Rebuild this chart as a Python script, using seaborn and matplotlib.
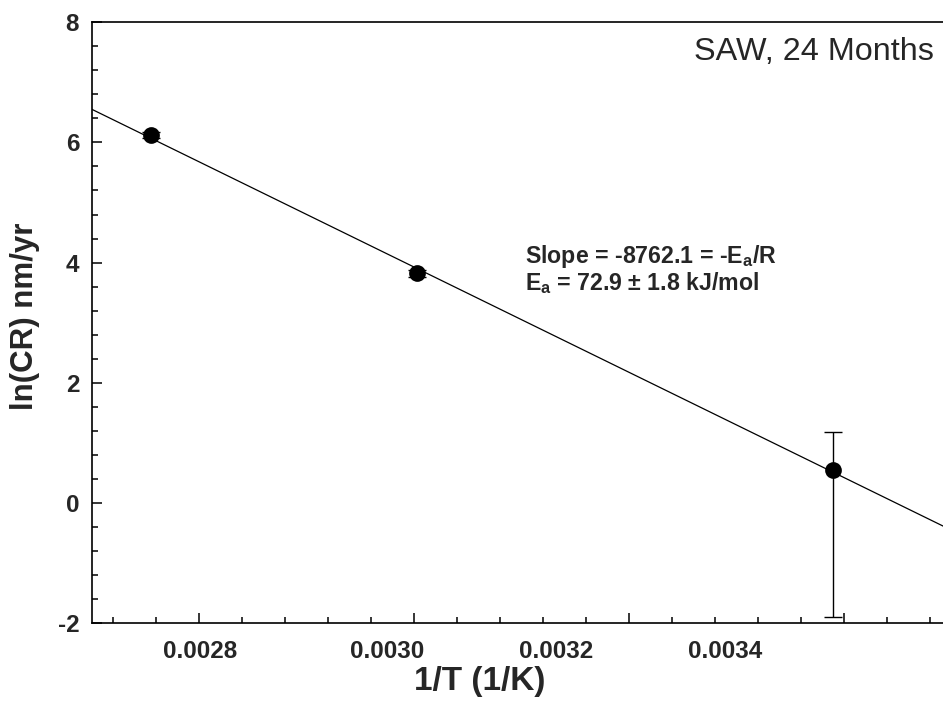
import matplotlib
matplotlib.use("Agg")
import matplotlib.pyplot as plt
import matplotlib.transforms as mtransforms
from matplotlib.ticker import MultipleLocator, NullFormatter
import numpy as np
import pandas as pd
import seaborn as sns

# Arrhenius data for SAW after 24 months
temperature_K = [363, 333, 295]
ln_cr = [6.12, 3.82, 0.54]
err_lower = [0.05, 0.06, 2.44]
err_upper = [0.05, 0.06, 0.64]

slope = -8762.1
x_range = [0.0027, 0.0035]
x_major = [0.0028, 0.0030, 0.0032, 0.0034]
x_tick_text = ["0.0028", "0.0030", "0.0032", "0.0034"]
x_text_pos = [0.1256, 0.3430, 0.5399, 0.7370]
y_major = [-2, 0, 2, 4, 6, 8]

inv_T = [1.0 / t for t in temperature_K]
df = pd.DataFrame({"inv_T": inv_T, "ln_cr": ln_cr})

# Regression line with the stated slope through the data centroid
intercept = np.mean(ln_cr) - slope * np.mean(inv_T)
fit = pd.DataFrame({"inv_T": x_range,
                    "ln_cr": [intercept + slope * v for v in x_range]})

sns.set_theme(style="ticks")
plt.rcParams["font.family"] = ["Liberation Sans", "DejaVu Sans"]
plt.rcParams["mathtext.fontset"] = "custom"
plt.rcParams["mathtext.bf"] = "Liberation Sans:bold"
plt.rcParams["mathtext.rm"] = "Liberation Sans"

fig = plt.figure(figsize=(9.43, 7.17), dpi=100)
ax = fig.add_axes([0.0972, 0.1311, 0.912, 0.8378])

sns.lineplot(data=fit, x="inv_T", y="ln_cr", ax=ax, color="black",
             linewidth=0.9, zorder=2)
ax.errorbar(df["inv_T"], df["ln_cr"], yerr=[err_lower, err_upper],
            fmt="none", ecolor="black", elinewidth=1.0, capsize=6.4,
            capthick=1.0, zorder=3)
sns.scatterplot(data=df, x="inv_T", y="ln_cr", ax=ax, color="black",
                s=145, edgecolor="black", linewidth=0, zorder=4)

ax.set_xlim(*x_range)
ax.set_ylim(-2, 8)

ax.set_xticks(x_major)
ax.xaxis.set_major_formatter(NullFormatter())
ax.xaxis.set_minor_locator(MultipleLocator(0.00004))
ax.set_yticks(y_major)
ax.set_yticklabels([str(v) for v in y_major], fontsize=17.5, fontweight="bold")
ax.yaxis.set_minor_locator(MultipleLocator(0.4))

ax.tick_params(axis="both", which="major", direction="in", length=7,
               width=1.1, color="black")
ax.tick_params(axis="both", which="minor", direction="in", length=4.3,
               width=1.1, color="black")
ax.tick_params(axis="y", which="major", pad=9)
ax.tick_params(top=False, right=False, which="both")

xform = mtransforms.blended_transform_factory(ax.transAxes, ax.transAxes)
for pos, txt in zip(x_text_pos, x_tick_text):
    ax.text(pos, -0.029, txt, transform=xform, ha="center", va="top",
            fontsize=17.5, fontweight="bold")

for side in ["left", "bottom", "top", "right"]:
    ax.spines[side].set_visible(True)
    ax.spines[side].set_color("black")
    ax.spines[side].set_linewidth(1.2)

ax.set_xlabel("")
ax.set_ylabel("")
fig.text(0.509, 1 - 690 / 717, "1/T (1/K)", ha="center", va="baseline",
         fontsize=24, fontweight="bold")
fig.text(0.026, 1 - 316 / 717, "ln(CR) nm/yr", ha="center", va="center",
         rotation=90, fontsize=22.5, fontweight="bold")

fig.text(934 / 943, 1 - 60 / 717, "SAW, 24 Months", ha="right",
         va="baseline", fontsize=23.3)

fig.text(525 / 943, 1 - 263 / 717,
         r"Slope = -8762.1 = -E$_{\mathbf{a}}$/R",
         ha="left", va="baseline", fontsize=16.7, fontweight="bold")
fig.text(525 / 943, 1 - 290 / 717,
         r"E$_{\mathbf{a}}$ = 72.9 ± 1.8 kJ/mol",
         ha="left", va="baseline", fontsize=16.7, fontweight="bold")

fig.savefig("out.png", dpi=100)
